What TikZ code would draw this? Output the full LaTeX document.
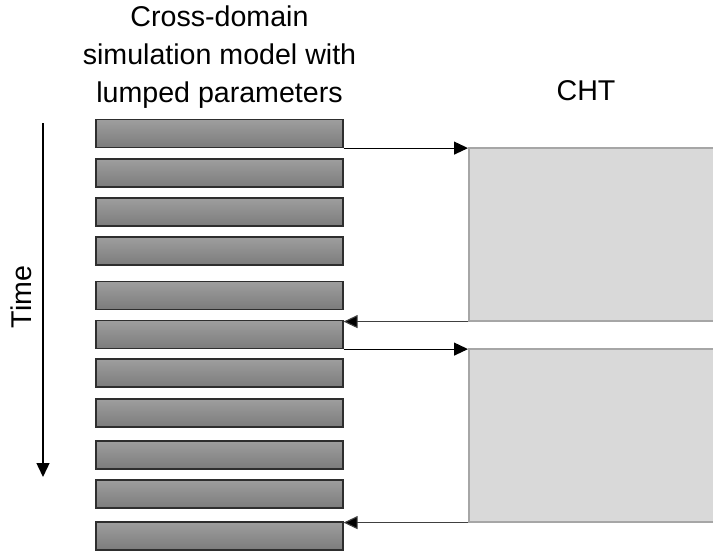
\documentclass[tikz,border=0pt]{standalone}
\usepackage{fontspec}
\setmainfont{Liberation Sans}
\usetikzlibrary{arrows.meta}
\definecolor{barEdge}{HTML}{2E2E2E}
\definecolor{barTop}{HTML}{9E9E9E}
\definecolor{barBot}{HTML}{7C7C7C}
\definecolor{chtFill}{HTML}{D9D9D9}
\definecolor{chtEdge}{HTML}{A6A6A6}
\definecolor{linkGray}{HTML}{404040}
\tikzset{
  stepbar/.style={draw=barEdge, line width=0.6pt, top color=barTop, bottom color=barBot,
    minimum width=123.5pt, minimum height=14pt, inner sep=0pt, rectangle},
  chtblock/.style={draw=chtEdge, fill=chtFill, line width=0.8pt, rectangle,
    minimum height=86.5pt, minimum width=150pt, inner sep=0pt, anchor=north west},
  label/.style={font=\fontsize{14.3pt}{19pt}\selectfont, inner sep=0pt},
  link/.style={line width=0.55pt, -{Triangle[length=7pt,width=6.5pt,fill=black]}},
}
\begin{document}
\begin{tikzpicture}[x=0.5pt, y=-0.5pt]
\useasboundingbox (0,0) rectangle (713,552);
\clip (0,0) rectangle (713,552);

% header labels
\node[label, align=center, anchor=north] (hdr) at (219.5,5)
  {Cross-domain\\simulation model with\\lumped parameters};
\node[label, anchor=base] (cht) at (586,100) {CHT};

% time axis
\coordinate (t0) at (43,123);
\coordinate (t1) at (43,477);
\draw[line width=0.7pt, -{Triangle[length=7pt,width=6.5pt]}] (t0) -- (t1);
\node[label, rotate=90] (time) at (21,297) {Time};

% lumped-parameter steps
\foreach \i/\y in {1/133.5, 2/173, 3/212, 4/251, 5/295.5, 6/334.5,
                   7/373, 8/413, 9/455, 10/494, 11/536} {
  \node[stepbar] (b\i) at (219.5,\y) {};
}

% CHT solver intervals
\node[chtblock] (c1) at (468,147) {};
\node[chtblock] (c2) at (468,348) {};

% data exchange
\draw[link, draw=black] (b1.south east) -- (c1.north west |- b1.south east);
\draw[link, draw=linkGray] (c1.south west) -- (b6.north east |- c1.south west);
\draw[link, draw=black] (b6.south east) -- (c2.north west |- b6.south east);
\draw[link, draw=linkGray] (c2.south west) -- (b11.north east |- c2.south west);
\end{tikzpicture}
\end{document}
